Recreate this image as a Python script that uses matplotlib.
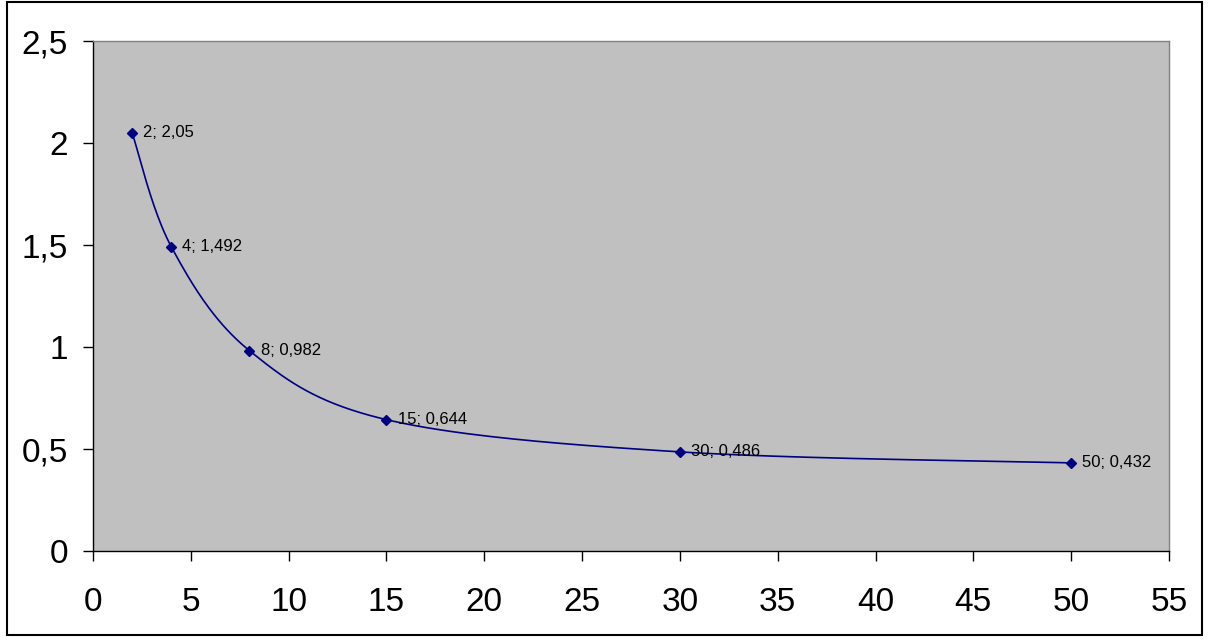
import numpy as np
import matplotlib.pyplot as plt
from matplotlib.patches import Rectangle
from matplotlib.ticker import FuncFormatter

plt.rcParams['font.family'] = ['Liberation Sans', 'DejaVu Sans']

x_vals = [2, 4, 8, 15, 30, 50]
y_vals = [2.05, 1.492, 0.982, 0.644, 0.486, 0.432]
point_labels = ['2; 2,05', '4; 1,492', '8; 0,982', '15; 0,644', '30; 0,486', '50; 0,432']


def smooth(xs, ys, n=40):
    # excel-like smoothed line: cubic bezier segments, catmull-rom control points
    p = np.column_stack([xs, ys]).astype(float)
    p = np.vstack([p[0], p, p[-1]])
    out = []
    t = np.linspace(0, 1, n)[:, None]
    for i in range(1, len(p) - 2):
        p0, p3 = p[i], p[i + 1]
        c1 = p0 + (p[i + 1] - p[i - 1]) / 6.0
        c2 = p3 - (p[i + 2] - p[i]) / 6.0
        seg = (1 - t)**3 * p0 + 3 * (1 - t)**2 * t * c1 + 3 * (1 - t) * t**2 * c2 + t**3 * p3
        out.append(seg)
    out = np.vstack(out)
    return out[:, 0], out[:, 1]


fig = plt.figure(figsize=(12.22, 6.42), dpi=100)
ax = fig.add_axes([0.0761, 0.1417, 0.8805, 0.7944])
ax.set_facecolor('#C0C0C0')

sx, sy = smooth(x_vals, y_vals)
ax.plot(sx, sy, color='#000080', lw=1.2)
ax.plot(x_vals, y_vals, 'D', color='#000080', ms=5.5, ls='none')

for xv, yv, lab in zip(x_vals, y_vals, point_labels):
    ax.annotate(lab, (xv, yv), xytext=(8, 0), textcoords='offset points',
                va='center', ha='left', fontsize=12)

ax.set_xlim(0, 55)
ax.set_ylim(0, 2.5)
ax.set_xticks(range(0, 56, 5))
ax.set_yticks([0, 0.5, 1, 1.5, 2, 2.5])
ax.yaxis.set_major_formatter(FuncFormatter(lambda v, p: ('%g' % v).replace('.', ',')))
ax.tick_params(direction='out', length=7, width=1, labelsize=24)
ax.tick_params(axis='x', pad=19)
ax.tick_params(axis='y', pad=11)
for s in ['left', 'bottom']:
    ax.spines[s].set_color('black')
    ax.spines[s].set_linewidth(1)
for s in ['top', 'right']:
    ax.spines[s].set_color('#808080')
    ax.spines[s].set_linewidth(1)

fig.patches.append(Rectangle((7 / 1222, 1 - 635 / 642), 1195 / 1222, 633 / 642,
                             transform=fig.transFigure, fill=False,
                             edgecolor='black', lw=1.5))

fig.savefig('out.png', dpi=100)
